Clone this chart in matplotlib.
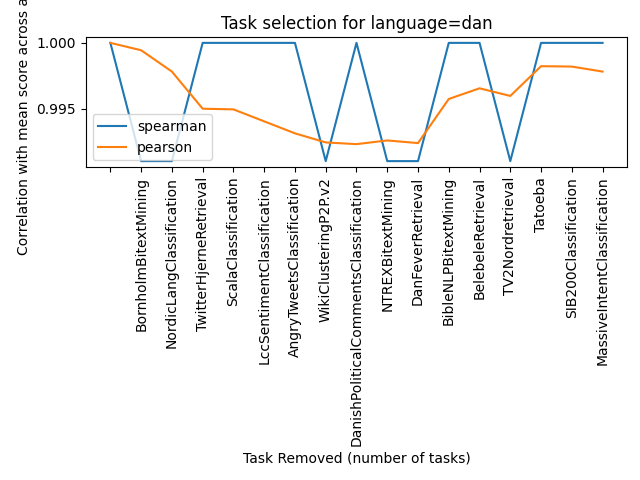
import matplotlib
matplotlib.use("Agg")
import matplotlib.pyplot as plt
from matplotlib.ticker import MultipleLocator, FormatStrFormatter

tasks = ["", "BornholmBitextMining", "NordicLangClassification", "TwitterHjerneRetrieval",
         "ScalaClassification", "LccSentimentClassification", "AngryTweetsClassification",
         "WikiClusteringP2P.v2", "DanishPoliticalCommentsClassification", "NTREXBitextMining",
         "DanFeverRetrieval", "BibleNLPBitextMining", "BelebeleRetrieval", "TV2Nordretrieval",
         "Tatoeba", "SIB200Classification", "MassiveIntentClassification"]

spearman = [1.0, 0.99102, 0.99102, 1.0, 1.0, 1.0, 1.0, 0.99102, 1.0, 0.99102, 0.99102,
            1.0, 1.0, 0.99102, 1.0, 1.0, 1.0]
pearson = [1.0, 0.99944, 0.99782, 0.99500, 0.99495, 0.99404, 0.99313, 0.99244, 0.99231,
           0.99259, 0.99239, 0.99574, 0.99655, 0.99597, 0.99823, 0.99820, 0.99782]

fig, ax = plt.subplots(figsize=(6.4, 4.8), dpi=100)
x = list(range(len(tasks)))
ax.plot(x, spearman, label="spearman")
ax.plot(x, pearson, label="pearson")
ax.set_xticks(x)
ax.set_xticklabels(tasks, rotation=90)
ax.yaxis.set_major_locator(MultipleLocator(0.005))
ax.yaxis.set_major_formatter(FormatStrFormatter("%.3f"))
ax.set_title("Task selection for language=dan")
ax.set_xlabel("Task Removed (number of tasks)")
ax.set_ylabel("Correlation with mean score across all tasks")
ax.legend(loc="lower left")
fig.subplots_adjust(left=0.134, right=0.98, top=0.923, bottom=0.652)
fig.savefig("out.png")
